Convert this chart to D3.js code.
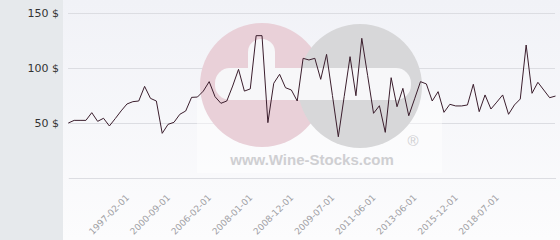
<!DOCTYPE html>
<html>
	<head>
		<title>Price history</title>
		<style>
			body { margin: 0; background: #fff; }
			svg { display: block; }
			.y-axis text { font: 11px "DejaVu Sans", sans-serif; fill: #333; }
			.x-axis text { font: 9px "DejaVu Sans", sans-serif; fill: #a0a0a4; }
			.grid line, .x-axis path { stroke: #dcdde2; }
		</style>
	</head>
	<body>
		<script src="https://cdn.jsdelivr.net/npm/d3@7"></script>
		<script>
			// one value per auction date, in $
			var prices = [
				50, 52.4, 52.4, 52.4, 59.4, 51.5, 54.3, 47.3, 54, 61,
				67.3, 69.4, 70, 83.3, 72.4, 70, 40.6, 48.8, 50.6, 57.9,
				60.9, 73.3, 73.6, 79, 87.6, 73.9, 67.9, 70, 83.6, 98.8,
				79, 81, 129.4, 129.4, 50.3, 86.1, 94.3, 82.1, 80, 70,
				108.8, 107.3, 108.8, 89.7, 112.4, 75, 37.5, 74, 110.3, 74.8,
				127, 93, 58.8, 65.7, 41.5, 91.2, 64.8, 81.5, 56.6, 72,
				87.6, 85.5, 70, 78.5, 59.7, 67, 65.5, 65.5, 66.4, 85.2,
				60.3, 75.5, 62.7, 69, 75.5, 57.9, 66.4, 71.8, 120.9, 77,
				87, 80, 73, 74.5
			];
			var tickLabels = ['1997-02-01', '2000-09-01', '2006-02-01', '2008-01-01', '2008-12-01',
				'2009-07-01', '2011-06-01', '2013-06-01', '2015-12-01', '2018-07-01'];
			var tickIndex = [10, 17, 24, 31, 38, 45, 52, 59, 66, 73];
			var yTicks = [50, 100, 150];

			var width = 560, height = 240;
			var svg = d3.select('body').append('svg')
						.attr('width', width)
						.attr('height', height);

			var defs = svg.append('defs');
			var grad = defs.append('linearGradient')
						.attr('id', 'bg').attr('x1', 0).attr('y1', 0).attr('x2', 0).attr('y2', 1);
			grad.append('stop').attr('offset', '0%').attr('stop-color', '#f1f2f7');
			grad.append('stop').attr('offset', '100%').attr('stop-color', '#fcfcfd');

			// backgrounds
			svg.append('rect').attr('width', 63).attr('height', height).attr('fill', '#e6e9ec');
			svg.append('rect').attr('x', 63).attr('width', width - 63).attr('height', height)
				.attr('fill', 'url(#bg)');

			var x = d3.scaleLinear().domain([0, prices.length - 1]).range([68.3, 555.5]);
			var y = d3.scaleLinear().domain([0, 150]).range([178, 13]);

			// y axis with grid (drawn under the watermark)
			var yAxis = svg.append('g')
						.attr('class', 'y-axis grid')
						.attr('transform', 'translate(68,0)')
						.call(d3.axisLeft(y)
							.tickValues(yTicks)
							.tickSize(-487)
							.tickPadding(9)
							.tickFormat(function(d) { return d + ' $'; }));
			yAxis.select('.domain').remove();

			// x axis
			var xAxis = svg.append('g')
						.attr('class', 'x-axis')
						.attr('transform', 'translate(0,178)')
						.call(d3.axisBottom(x)
							.tickValues(tickIndex)
							.tickSize(0)
							.tickSizeOuter(0)
							.tickFormat(function(d, i) { return tickLabels[i]; }));
			xAxis.selectAll('text')
				.attr('text-anchor', 'end')
				.attr('y', 0)
				.attr('dy', '0.35em')
				.attr('transform', 'translate(0,18) rotate(-45)');

			// watermark
			var wm = svg.append('g');
			wm.append('rect').attr('x', 197).attr('y', 100).attr('width', 245).attr('height', 73)
				.attr('fill', '#fff').attr('opacity', 0.45);
			wm.append('circle').attr('cx', 262).attr('cy', 85).attr('r', 62).attr('fill', '#e9d0d8');
			wm.append('circle').attr('cx', 360).attr('cy', 86).attr('r', 62).attr('fill', '#d7d7d9');
			wm.append('rect').attr('x', 215).attr('y', 68).attr('width', 196).attr('height', 32)
				.attr('rx', 15).attr('fill', '#f7f7f9');
			wm.append('rect').attr('x', 248).attr('y', 39).attr('width', 27).attr('height', 60)
				.attr('rx', 13).attr('fill', '#f7f7f9');
			wm.append('text').attr('x', 312).attr('y', 165).attr('text-anchor', 'middle')
				.style('font', 'bold 15px "Liberation Sans", Arial, sans-serif')
				.attr('fill', '#cfcfd2')
				.text('www.Wine-Stocks.com');
			wm.append('text').attr('x', 413).attr('y', 146).attr('text-anchor', 'middle')
				.style('font', '15px "Liberation Sans", Arial, sans-serif')
				.attr('fill', '#cfcfd2')
				.text('\u00ae');

			// price line
			var line = d3.line()
						.x(function(d, i) { return x(i); })
						.y(function(d) { return y(d); });
			svg.append('path')
				.datum(prices)
				.attr('fill', 'none')
				.attr('stroke', '#3b1e2d')
				.attr('stroke-width', 1)
				.attr('d', line);
		</script>
	</body>
</html>
